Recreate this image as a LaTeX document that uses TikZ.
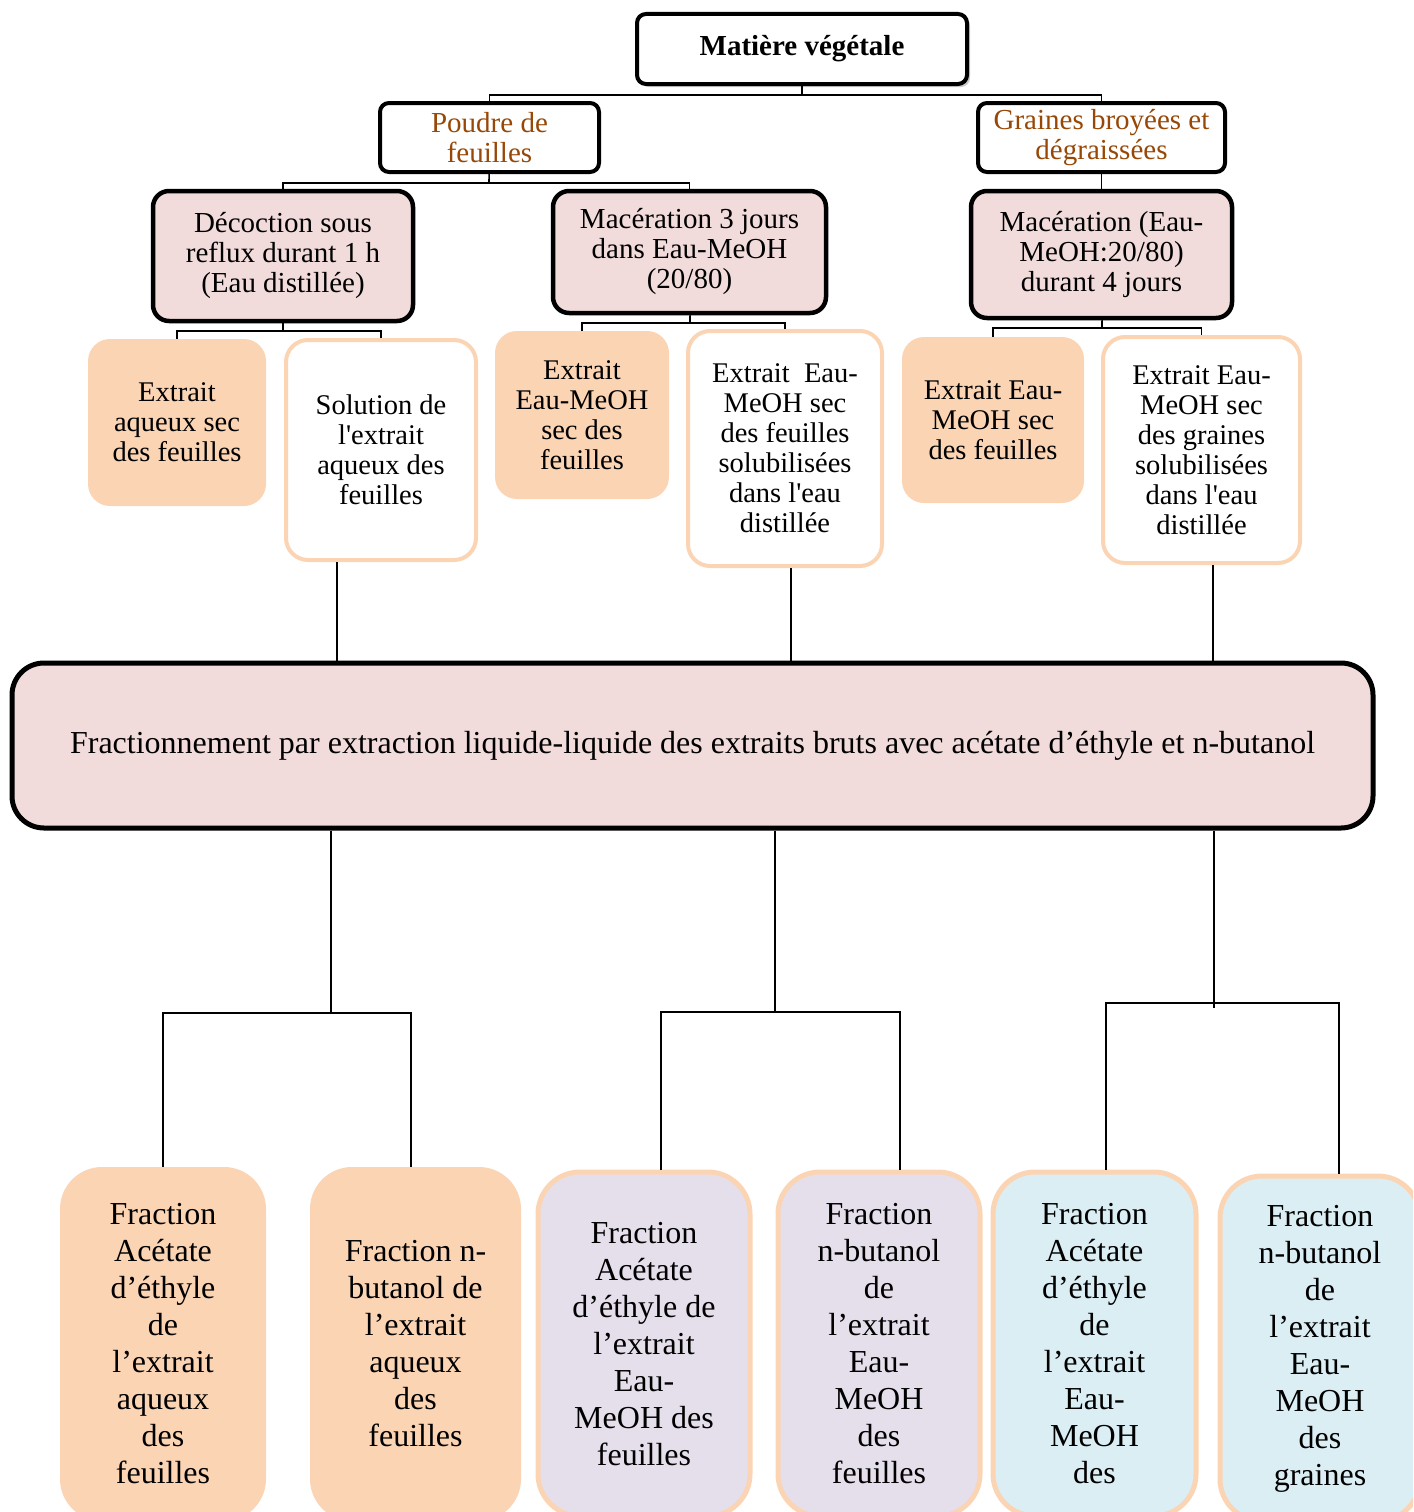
\documentclass[tikz,border=0pt]{standalone}
\usepackage{fontspec}
\setmainfont{Liberation Serif}
\usetikzlibrary{shadows}

\definecolor{peach}{HTML}{FBD4B4}
\definecolor{rose}{HTML}{F2DCDB}
\definecolor{lilac}{HTML}{E5DFEC}
\definecolor{sky}{HTML}{DAEEF3}
\definecolor{brun}{HTML}{984806}

\begin{document}
\begin{tikzpicture}[x=1pt, y=-1pt]
            \tikzstyle{cadre}=[draw=black, line width=4pt, rounded corners=9pt, fill=white, align=center, inner sep=0pt, font=\fontsize{29}{30}\selectfont]
            \tikzstyle{etape}=[cadre, fill=rose, line width=4.5pt, rounded corners=16pt]
            \tikzstyle{extrait}=[fill=peach, rounded corners=22pt, align=center, inner sep=0pt, font=\fontsize{28.5}{30}\selectfont]
            \tikzstyle{solu}=[extrait, fill=white, draw=peach, line width=4pt]
            \tikzstyle{fracbox}=[rounded corners=42pt, align=center, inner sep=0pt, font=\fontsize{32}{37}\selectfont]
            \tikzstyle{lien}=[line width=1.6pt]

            \useasboundingbox (0,0) rectangle (1413,1512);
            \clip (0,0) rectangle (1413,1512);

            \node[cadre, drop shadow={shadow xshift=3pt, shadow yshift=-3pt, opacity=0.4}, minimum width=330pt, minimum height=70pt, font=\bfseries\fontsize{29}{30}\selectfont] (MV) at (802,49) {Matière végétale};
            \node[cadre, text=brun, minimum width=219pt, minimum height=69pt] (PF) at (489.5,137.5) {Poudre de\\feuilles};
            \node[cadre, text=brun, minimum width=247pt, minimum height=69pt] (GB) at (1101.5,137.5) {Graines broyées et\\dégraissées};

            \node[etape, minimum width=260pt, minimum height=130pt] (DC) at (283,256) {Décoction sous\\reflux durant 1 h\\(Eau distillée)};
            \node[etape, minimum width=273pt, minimum height=122pt] (M3) at (689.5,252) {Macération 3 jours\\dans Eau-MeOH\\(20/80)};
            \node[etape, minimum width=261pt, minimum height=127pt] (M4) at (1101.5,254.5) {Macération (Eau-\\MeOH:20/80)\\durant 4 jours};

            \node[extrait, minimum width=178pt, minimum height=167pt] (E1) at (177,422.5) {Extrait\\aqueux sec\\des feuilles};
            \node[solu, minimum width=190pt, minimum height=220pt] (S1) at (381,450) {Solution de\\l\textquotesingle extrait\\aqueux des\\feuilles};
            \node[extrait, minimum width=174pt, minimum height=168pt] (E2) at (582,415) {Extrait\\Eau-MeOH\\sec des\\feuilles};
            \node[solu, minimum width=194pt, minimum height=235pt] (S2) at (785,448.5) {Extrait\ \ Eau-\\MeOH sec\\des feuilles\\solubilisées\\dans l\textquotesingle eau\\distillée};
            \node[extrait, minimum width=182pt, minimum height=166pt] (E3) at (993,420) {Extrait Eau-\\MeOH sec\\des feuilles};
            \node[solu, minimum width=197pt, minimum height=226pt] (S3) at (1201.5,450) {Extrait Eau-\\MeOH sec\\des graines\\solubilisées\\dans l\textquotesingle eau\\distillée};

            \node[etape, line width=5pt, rounded corners=32pt, minimum width=1361pt, minimum height=165pt, font=\fontsize{32}{34}\selectfont] (FR) at (692.5,745.5) {Fractionnement par extraction liquide-liquide des extraits bruts avec acétate d’éthyle et n-butanol};

            \node[fracbox, fill=peach, minimum width=206pt, minimum height=354pt] (F1) at (163,1344) {Fraction\\Acétate\\d’éthyle\\de\\l’extrait\\aqueux\\des\\feuilles};
            \node[fracbox, fill=peach, minimum width=211pt, minimum height=354pt] (F2) at (415.5,1344) {Fraction n-\\butanol de\\l’extrait\\aqueux\\des\\feuilles};
            \node[fracbox, fill=lilac, draw=peach, line width=5pt, minimum width=212pt, minimum height=344pt] (F3) at (644,1344) {Fraction\\Acétate\\d’éthyle de\\l’extrait\\Eau-\\MeOH des\\feuilles};
            \node[fracbox, fill=lilac, draw=peach, line width=5pt, minimum width=202pt, minimum height=344pt] (F4) at (879,1344) {Fraction\\n-butanol\\de\\l’extrait\\Eau-\\MeOH\\des\\feuilles};
            \node[fracbox, fill=sky, draw=peach, line width=5pt, minimum width=203pt, minimum height=344pt] (F5) at (1094.5,1344) {Fraction\\Acétate\\d’éthyle\\de\\l’extrait\\Eau-\\MeOH\\des};
            \node[fracbox, fill=sky, draw=peach, line width=5pt, minimum width=200pt, minimum height=345pt] (F6) at (1320,1348.5) {Fraction\\n-butanol\\de\\l’extrait\\Eau-\\MeOH\\des\\graines};

            % upper tree
            \coordinate (j0) at (802,95);
            \coordinate (j1) at (489,183);
            \coordinate (j2) at (283,331);
            \coordinate (j3) at (690,323);
            \coordinate (j4) at (1102,328);
            \draw[lien] (MV) -- (j0);
            \draw[lien] (PF.north) |- (j0) -| (GB.north);
            \draw[lien] (PF) -- (j1);
            \draw[lien] (DC.north) |- (j1) -| (M3.north);
            \draw[lien] (GB) -- (M4);
            \draw[lien] (DC) -- (j2);
            \draw[lien] (E1.north) |- (j2) -| (S1.north);
            \draw[lien] (M3) -- (j3);
            \draw[lien] (E2.north) |- (j3) -| (S2.north);
            \draw[lien] (M4) -- (j4);
            \draw[lien] (E3.north) |- (j4) -| (S3.north);

            % into the fractionation
            \coordinate (a1) at (337,0);
            \coordinate (a2) at (791,0);
            \coordinate (a3) at (1213,0);
            \draw[lien] (S1.south -| a1) -- (FR.north -| a1);
            \draw[lien] (S2.south -| a2) -- (FR.north -| a2);
            \draw[lien] (S3.south -| a3) -- (FR.north -| a3);

            % lower tree
            \coordinate (k1) at (331,1013);
            \coordinate (l1) at (163,1013);
            \coordinate (r1) at (411,1013);
            \coordinate (k2) at (775,1012);
            \coordinate (l2) at (661,1012);
            \coordinate (r2) at (900,1012);
            \coordinate (k3) at (1214,1003);
            \coordinate (l3) at (1106,1003);
            \coordinate (r3) at (1339,1003);
            \draw[lien] (FR.south -| k1) -- (k1);
            \draw[lien] (F1.north -| l1) -- (l1) -- (r1) -- (F2.north -| r1);
            \draw[lien] (FR.south -| k2) -- (k2);
            \draw[lien] (F3.north -| l2) -- (l2) -- (r2) -- (F4.north -| r2);
            \draw[lien] (FR.south -| k3) -- ([yshift=-5pt]k3);
            \draw[lien] (F5.north -| l3) -- (l3) -- (r3) -- (F6.north -| r3);

          \end{tikzpicture}
\end{document}
